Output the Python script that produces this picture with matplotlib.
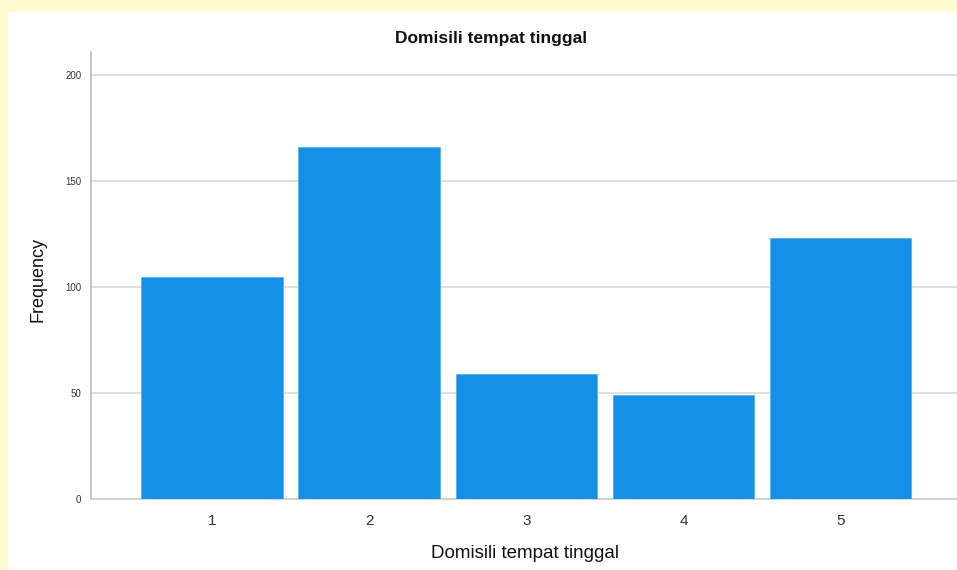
import numpy as np
import matplotlib.pyplot as plt
from matplotlib.patches import Rectangle

plt.rcParams['font.family'] = ['Liberation Sans', 'DejaVu Sans']

# data
categories = ['1', '2', '3', '4', '5']
frequency = [105, 166, 59, 49, 123]
y_ticks = [0, 50, 100, 150, 200]

bar_color = '#1490E6'
grid_color = '#DADADA'

fig = plt.figure(figsize=(9.57, 5.70), dpi=100)
fig.patch.set_facecolor('#FFFCCF')
# white chart panel behind the axes
panel = Rectangle((8 / 957, 0), 1, 1 - 12 / 570, transform=fig.transFigure,
                  facecolor='white', edgecolor='none', zorder=-10)
fig.add_artist(panel)

ax = fig.add_axes([91 / 957, 71 / 570, 1 - 91 / 957, 447 / 570])
ax.set_zorder(1)
ax.set_facecolor('white')

x = np.arange(1, len(categories) + 1)
ax.bar(x, frequency, width=0.9, color=bar_color, edgecolor='#5AB0EE', linewidth=0.6, zorder=3)

ax.set_xlim(0.23, 5.74)
ax.set_ylim(0, 211)
ax.set_xticks(x)
ax.set_xticklabels(categories, fontsize=11, color='#333333')
ax.set_yticks(y_ticks)
ax.set_yticklabels([str(v) for v in y_ticks], fontsize=7, color='#333333')
ax.tick_params(axis='both', length=0)
ax.tick_params(axis='x', pad=11)
ax.tick_params(axis='y', pad=7)

ax.yaxis.grid(True, color=grid_color, linewidth=1.2, zorder=0)
ax.set_axisbelow(True)

for side in ['top', 'right']:
    ax.spines[side].set_visible(False)
ax.spines['left'].set_color('#BBBBBB')
ax.spines['bottom'].set_color('#CCCCCC')
ax.spines['left'].set_linewidth(1.2)
ax.spines['bottom'].set_linewidth(1.2)

fig.text(491 / 957, 1 - 38 / 570, 'Domisili tempat tinggal', ha='center', va='center',
         fontsize=12.5, fontweight='bold', color='#111111')
fig.text(525 / 957, 1 - 553 / 570, 'Domisili tempat tinggal', ha='center', va='center',
         fontsize=13.5, color='#111111')
fig.text(38 / 957, 1 - 280 / 570, 'Frequency', ha='center', va='center', rotation=90,
         fontsize=13, color='#111111')

fig.savefig('out.png', dpi=100, facecolor=fig.get_facecolor())
